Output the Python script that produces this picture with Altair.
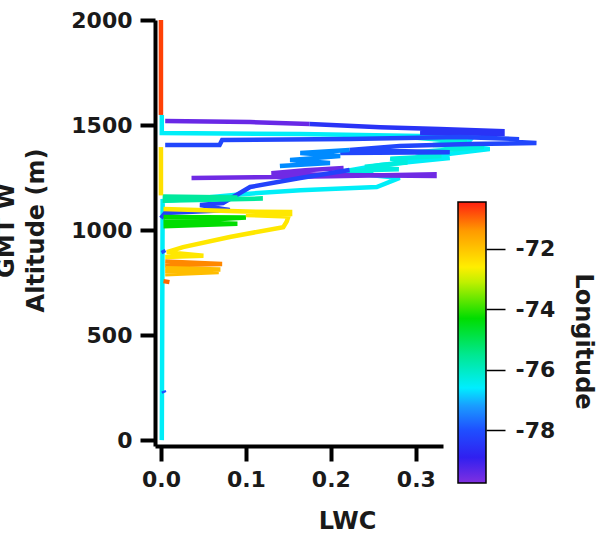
import altair as alt
import pandas as pd

# ---------------- data ----------------
trace_names = [
    "red_top", "cyan_main", "cyan_band", "purple_top", "blue_top", "blue_mid", "blue_light",
    "purple_low", "blue_desc", "teal", "green", "yellow_axis", "yellow_main",
    "orange_red", "orange", "red_dot", "blue_blip1", "blue_blip2",
]
trace_lon = [
    -70.6, -76.5, -76.2, -79.4, -78.6, -78.2, -77.4,
    -79.5, -78.3, -75.6, -74.3, -72.4, -72.5,
    -71.2, -71.9, -70.9, -78.0, -78.0,
]
trace_lwc = [
    [0.0, 0.0],
    [0.001, 0.001, 0.164, 0.305, 0.364, 0.358, 0.387, 0.328, 0.281, 0.34, 0.258, 0.211,
     0.281, 0.254, 0.164, 0.096, 0.034, 0.002, 0.001],
    [0.30, 0.36, 0.32, 0.38, 0.30, 0.33, 0.27, 0.29, 0.24, 0.28, 0.22, 0.25],
    [0.005, 0.105, 0.175],
    [0.175, 0.258, 0.328, 0.402, 0.402, 0.305],
    [0.005, 0.069, 0.072, 0.222, 0.352, 0.419, 0.419, 0.442, 0.364, 0.281, 0.222, 0.34, 0.211],
    [0.222, 0.164, 0.211, 0.152, 0.199, 0.140],
    [0.036, 0.20, 0.322, 0.322, 0.20, 0.13, 0.17, 0.215],
    [0.222, 0.164, 0.105, 0.073, 0.046, 0.081, 0.005, 0.0],
    [0.002, 0.09, 0.05, 0.12, 0.002],
    [0.003, 0.10, 0.06, 0.003, 0.09, 0.003],
    [0.0, 0.0],
    [0.003, 0.10, 0.152, 0.152, 0.10, 0.15, 0.148, 0.144, 0.081, 0.026, 0.007, 0.05, 0.005],
    [0.005, 0.072, 0.005],
    [0.005, 0.07, 0.005, 0.068, 0.005],
    [0.003, 0.01],
    [0.002, 0.004],
    [0.003, 0.004],
]
trace_alt = [
    [2000, 1548],
    [1548, 1462, 1457, 1448, 1429, 1400, 1386, 1357, 1333, 1343, 1310, 1276,
     1248, 1205, 1190, 1171, 1148, 1138, 0],
    [1440, 1420, 1405, 1395, 1370, 1352, 1340, 1322, 1302, 1290, 1282, 1268],
    [1519, 1514, 1505],
    [1505, 1490, 1481, 1471, 1457, 1462],
    [1405, 1405, 1429, 1433, 1443, 1433, 1419, 1414, 1410, 1400, 1381, 1371, 1367],
    [1381, 1367, 1352, 1333, 1319, 1305],
    [1248, 1256, 1266, 1258, 1262, 1270, 1285, 1295],
    [1286, 1248, 1205, 1129, 1119, 1095, 1081, 1057],
    [1160, 1155, 1145, 1150, 1140],
    [1062, 1060, 1050, 1040, 1030, 1018],
    [1395, 1165],
    [1100, 1088, 1086, 1076, 1072, 1064, 1040, 1014, 967, 919, 895, 878, 872],
    [850, 838, 833],
    [818, 812, 805, 800, 790],
    [757, 752],
    [905, 890],
    [235, 225],
]

# colour map (longitude stops and colours)
cmap_lon = [-79.75, -78.9, -78.0, -77.2, -76.6, -75.5, -74.3, -73.1, -72.6, -71.4, -70.45]
cmap_col = ["#8030e0", "#3020f0", "#1f4fff", "#1a9cff", "#00eeff", "#00e890",
            "#00dd00", "#c0f000", "#ffee00", "#ff9a00", "#ff2010"]

x_ticks = [0.0, 0.1, 0.2, 0.3]
y_ticks = [0, 500, 1000, 1500, 2000]
cbar_ticks = [-72, -74, -76, -78]

# ---------------- build table ----------------
rows = []
for name, lon, xs, ys in zip(trace_names, trace_lon, trace_lwc, trace_alt):
    for i, (xv, yv) in enumerate(zip(xs, ys)):
        rows.append({"trace": name, "lon": lon, "lwc": xv, "alt": yv, "seq": i})
df = pd.DataFrame(rows)

FONT = "DejaVu Sans"
color_scale = alt.Scale(domain=cmap_lon, range=cmap_col)

main = alt.Chart(df).mark_line(strokeWidth=4.5, clip=False).encode(
    x=alt.X("lwc:Q",
            scale=alt.Scale(domain=[-0.007, 0.332], nice=False, zero=False),
            axis=alt.Axis(values=x_ticks, format=".1f", title="LWC",
                          titleX=192, titleY=82, titleBaseline="alphabetic",
                          titleAlign="center")),
    y=alt.Y("alt:Q",
            scale=alt.Scale(domain=[-28, 2000], nice=False, zero=False),
            axis=alt.Axis(values=y_ticks, format="d", title=["GMT W", "Altitude (m)"],
                          titleAngle=270, titleX=-142, titleY=210,
                          titleBaseline="alphabetic", titleAlign="center",
                          titleLineHeight=30)),
    color=alt.Color("lon:Q", scale=color_scale, legend=None),
    detail="trace:N",
    order=alt.Order("seq:Q"),
).properties(width=288, height=426)

# colour bar drawn through its own scale
cb_df = pd.DataFrame({"lo": [cmap_lon[0]], "hi": [cmap_lon[-1]], "x0": [0], "x1": [1]})
span = cmap_lon[-1] - cmap_lon[0]
grad = alt.LinearGradient(
    gradient="linear",
    stops=[alt.GradientStop(color=c, offset=(v - cmap_lon[0]) / span)
           for v, c in zip(cmap_lon, cmap_col)],
    x1=0, x2=0, y1=1, y2=0,
)
cbar = alt.Chart(cb_df).mark_rect(fill=grad, stroke="black", strokeWidth=1.5).encode(
    x=alt.X("x0:Q", scale=alt.Scale(domain=[0, 1]), axis=None),
    x2="x1:Q",
    y=alt.Y("lo:Q",
            scale=alt.Scale(domain=[-79.75, -64.42], nice=False, zero=False),
            axis=alt.Axis(orient="right", values=cbar_ticks, domain=False,
                          labelExpr="'-' + format(abs(datum.value), 'd')",
                          tickSize=19, tickWidth=1.5, labelPadding=10,
                          title="Longitude", titleAngle=90, titleX=89, titleY=321,
                          titleBaseline="alphabetic", titleAlign="center")),
    y2="hi:Q",
).properties(width=28, height=463)

chart = alt.hconcat(main, cbar, spacing=15, bounds="flush").properties(
    autosize=alt.AutoSizeParams(type="none"),
    padding={"left": 155, "top": 20, "right": 457, "bottom": 515},
).configure_view(stroke=None).configure_axis(
    grid=False,
    domainColor="black", domainWidth=4,
    tickColor="black", tickWidth=4, tickSize=15,
    labelFont=FONT, labelFontWeight="bold", labelFontSize=22, labelColor="#1a1a1a",
    labelPadding=8,
    titleFont=FONT, titleFontWeight="bold", titleFontSize=24, titleColor="#1a1a1a",
)

chart.save("out.html", embed_options={"renderer": "svg", "actions": False})
